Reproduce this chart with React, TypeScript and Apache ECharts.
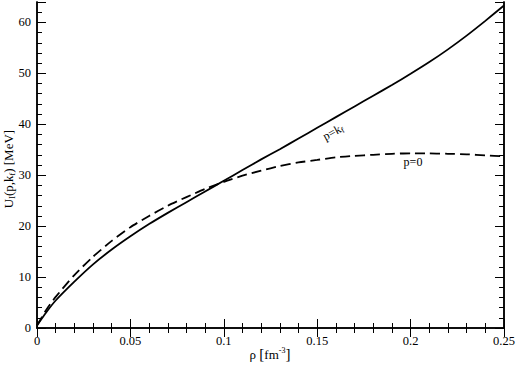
import React, { useEffect, useRef } from "react";
import * as echarts from "echarts";

const rho = [0, 0.005, 0.01, 0.02, 0.03, 0.04, 0.05, 0.06, 0.07, 0.08, 0.09, 0.1, 0.11, 0.12, 0.13, 0.14, 0.15, 0.16, 0.17, 0.18, 0.19, 0.2, 0.21, 0.22, 0.23, 0.24, 0.25];
const uKf = [0.5, 3.1, 5.4, 9.1, 12.5, 15.4, 18.0, 20.4, 22.6, 24.7, 26.8, 28.9, 31.0, 33.1, 35.1, 37.2, 39.3, 41.4, 43.5, 45.6, 47.7, 49.9, 52.2, 54.7, 57.4, 60.3, 63.3];
const u0 = [0.5, 3.6, 6.1, 10.4, 14.0, 17.1, 19.8, 22.0, 24.0, 25.7, 27.3, 28.7, 29.9, 30.9, 31.8, 32.5, 33.0, 33.5, 33.8, 34.0, 34.2, 34.3, 34.3, 34.2, 34.1, 33.9, 33.7];
const xTicks = ["0", "0.05", "0.1", "0.15", "0.2", "0.25"];
const yTicks = ["0", "10", "20", "30", "40", "50", "60"];

const FONT = "'Times New Roman', 'Liberation Serif', 'DejaVu Serif', serif";

export default function App() {
  const ref = useRef<HTMLDivElement>(null);
  useEffect(() => {
    const chart = echarts.init(ref.current!, null, { renderer: "svg" });
    const axisLine = { show: true, lineStyle: { color: "#000", width: 1.5 } };
    const majorTick = { show: true, inside: true, length: 9, lineStyle: { color: "#000", width: 1 } };
    const minorTickY = { show: true, inside: true, length: 5, lineStyle: { color: "#000", width: 1 } };
    const labelStyle = { color: "#000", fontFamily: FONT, fontSize: 12.5 };
    const yBase = (pos: "left" | "right", interval: number, tick: any, labels: boolean) => ({
      type: "value" as const,
      position: pos,
      offset: 0,
      min: 0,
      max: 64,
      interval,
      axisLine,
      axisTick: tick,
      splitLine: { show: false },
      axisLabel: labels
        ? {
            show: true,
            ...labelStyle,
            margin: 6,
            formatter: (v: number) => (yTicks.includes(String(v)) ? String(v) : ""),
          }
        : { show: false },
    });
    const xBase = (pos: "bottom" | "top", labels: boolean) => ({
      type: "value" as const,
      position: pos,
      min: 0,
      max: 0.25,
      interval: 0.05,
      axisLine,
      axisTick: majorTick,
      minorTick: { show: true, splitNumber: 5, length: 5, lineStyle: { color: "#000", width: 1 } },
      splitLine: { show: false },
      minorSplitLine: { show: false },
      axisLabel: labels
        ? {
            show: true,
            ...labelStyle,
            margin: 6,
            formatter: (v: number) => {
              const s = String(parseFloat(v.toFixed(3)));
              return xTicks.includes(s) ? s : "";
            },
          }
        : { show: false },
    });
    const rich = {
      a: { fontFamily: FONT, fontSize: 13, fill: "#000", lineHeight: 16 },
      s: { fontFamily: FONT, fontSize: 8, fill: "#000", verticalAlign: "bottom", lineHeight: 9 },
      p: { fontFamily: FONT, fontSize: 8, fill: "#000", verticalAlign: "top", lineHeight: 9 },
      b: { fontFamily: FONT, fontSize: 15, fill: "#000", lineHeight: 16 },
    };

    chart.setOption({
      animation: false,
      backgroundColor: "#fff",
      grid: { left: 37, right: 13, top: 2, bottom: 37, containLabel: false, outerBoundsMode: "none" },
      xAxis: [xBase("bottom", true), xBase("top", false)],
      yAxis: [
        yBase("left", 10, majorTick, true),
        yBase("left", 2, minorTickY, false),
        yBase("right", 10, majorTick, false),
        yBase("right", 2, minorTickY, false),
      ],
      series: [
        {
          type: "line",
          name: "p=kf",
          data: rho.map((x, i) => [x, uKf[i]]),
          showSymbol: false,
          smooth: 0.2,
          lineStyle: { color: "#000", width: 1.8, type: "solid" },
        },
        {
          type: "line",
          name: "p=0",
          data: rho.map((x, i) => [x, u0[i]]),
          showSymbol: false,
          smooth: 0.2,
          lineStyle: { color: "#000", width: 1.8, type: [10, 5] },
        },
      ],
      graphic: [
        {
          type: "text",
          x: 8,
          y: 169,
          rotation: Math.PI / 2,
          style: {
            text: "{a|U}{s|I}{a|(p,k}{s|f}{a|) [MeV]}",
            align: "center",
            verticalAlign: "middle",
            rich,
          },
        },
        {
          type: "text",
          x: 270,
          y: 354,
          style: {
            text: "{a|ρ }{b|[}{a|fm}{p|-3}{b|]}",
            align: "center",
            verticalAlign: "middle",
            rich,
          },
        },
        {
          type: "text",
          x: 333,
          y: 132,
          rotation: 0.5,
          style: {
            text: "{a|p=k}{s|f}",
            align: "center",
            verticalAlign: "middle",
            rich: {
              a: { fontFamily: FONT, fontSize: 12, fill: "#000", lineHeight: 14 },
              s: { fontFamily: FONT, fontSize: 8, fill: "#000", verticalAlign: "bottom", lineHeight: 8 },
            },
          },
        },
        {
          type: "text",
          x: 413,
          y: 162,
          style: {
            text: "p=0",
            align: "center",
            verticalAlign: "middle",
            fontFamily: FONT,
            fontSize: 12,
            fill: "#000",
          },
        },
      ],
    });
    return () => chart.dispose();
  }, []);
  return <div ref={ref} style={{ position: "absolute", left: 0, top: 0, width: 517, height: 365 }} />;
}
